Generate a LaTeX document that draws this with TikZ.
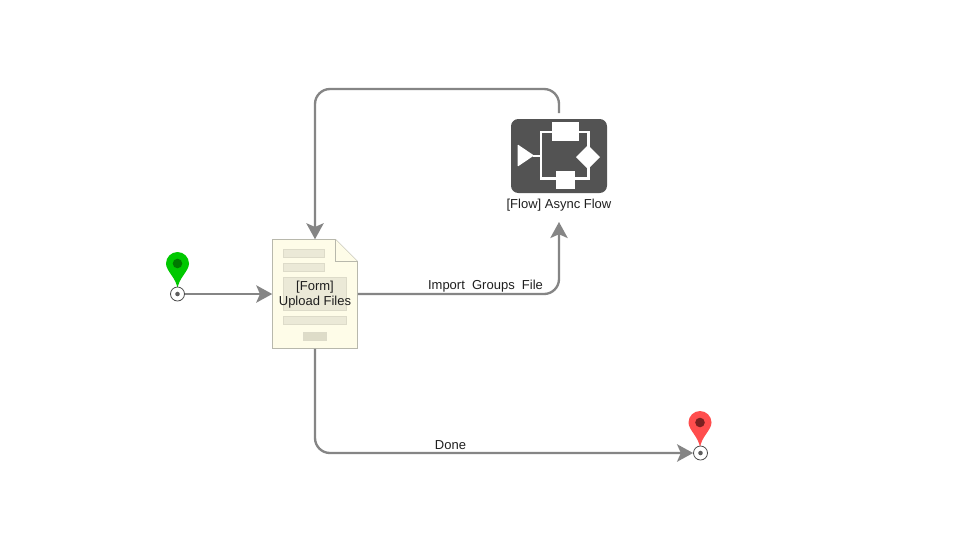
\documentclass[tikz,border=0pt]{standalone}
\usepackage{fontspec}
\setmainfont{Liberation Sans}
\usetikzlibrary{arrows.meta}
\definecolor{conn}{HTML}{858585}
\definecolor{paper}{HTML}{FEFCE8}
\definecolor{paperedge}{HTML}{B8B8AC}
\definecolor{barfill}{HTML}{EBE9D7}
\definecolor{barfilldark}{HTML}{DEDCC8}
\definecolor{baredge}{HTML}{DDDBC9}
\definecolor{flowbg}{HTML}{535353}
\definecolor{pingreen}{HTML}{00C800}
\definecolor{pingreend}{HTML}{007800}
\definecolor{pinred}{HTML}{FF4D4D}
\definecolor{pinredd}{HTML}{7A2020}
\tikzset{
  x=0.75pt,y=-0.75pt,
  conline/.style={draw=conn,line width=1.75pt,rounded corners=11.25pt,-{Stealth[length=12pt,width=13pt,inset=2.8pt]}},
  lbl/.style={font=\fontsize{9.75}{11.25}\selectfont,text=black!88,inner sep=0pt,align=center},
  bar/.style={fill=barfill,draw=baredge,line width=0.4pt},
  glyph/.style={fill=white,draw=none},
  wire/.style={draw=white,line width=1.8pt},
  endpt/.style={circle,draw=black!70,fill=white,line width=0.6pt,minimum size=10.5pt,inner sep=0pt},
}
\newcommand{\pinshape}[4]{% x, tip-circle y, fill, dark
  \fill[#3] (#1,#2-5) .. controls (#1-1,#2-16) and (#1-11.5,#2-23) .. (#1-11.5,#2-30.5)
    arc[start angle=180,end angle=0,radius=8.625pt]
    .. controls (#1+11.5,#2-23) and (#1+1,#2-16) .. cycle;
  \fill[#4] (#1,#2-30.5) circle[radius=3.6pt];
}
\begin{document}
\begin{tikzpicture}
\useasboundingbox[fill=white] (0,0) rectangle (953,551);
% form page
\draw[fill=paper,draw=paperedge,line width=0.7pt] (272.5,239.5) -- (335.5,239.5) -- (357.5,261.5) -- (357.5,348.5) -- (272.5,348.5) -- cycle;
\draw[fill=paper,draw=paperedge,line width=0.7pt] (335.5,239.5) -- (335.5,261.5) -- (357.5,261.5);
\draw[bar] (283.5,249.5) rectangle (324.5,257.5);
\draw[bar] (283.5,263.5) rectangle (324.5,271.5);
\draw[bar] (283.5,277.5) rectangle (346.5,310.5);
\draw[bar] (283.5,316.5) rectangle (346.5,324.5);
\draw[bar,fill=barfilldark] (303.5,332.5) rectangle (326.5,340.5);
\node[inner sep=0pt,minimum width=63.75pt,minimum height=81.75pt] (form) at (315,294) {};
\node[lbl] (formtext) at (315,294.8) {[Form]\\[0.3pt]Upload Files};
% flow icon
\node[fill=flowbg,rounded corners=5.5pt,minimum width=72pt,minimum height=55.5pt,inner sep=0pt] (flow) at (559,156) {};
\draw[wire] (533,156) -- (541,156);
\draw[wire] (541,178.5) -- (541,132) -- (588.5,132) -- (588.5,178.5) -- cycle;
\fill[glyph] (552,122) rectangle (578.5,140.5);
\fill[glyph] (556,170.5) rectangle (575,189);
\fill[glyph] (576,157) -- (588,145.2) -- (600,157) -- (588,169.2) -- cycle;
\fill[glyph,rounded corners=0.8pt] (517.5,144.3) -- (534,155.5) -- (517.5,166.7) -- cycle;
\node[lbl] (flowlabel) at (559,205) {[Flow] Async Flow};
\coordinate (flowin) at (559,222);
\coordinate (flowout) at (559,113);
% start / end pins
\pinshape{177.5}{294}{pingreen}{pingreend}
\pinshape{700}{453}{pinred}{pinredd}
\node[endpt] (start) at (177.5,294) {};
\fill[conn!70!black] (start.center) circle[radius=1.7pt];
\node[endpt] (stop) at (700.5,453) {};
\fill[conn!70!black] (stop.center) circle[radius=1.7pt];
% connectors
\draw[conline] (start) -- (form.west);
\draw[conline] (form.east) -- (559,294) -- (flowin);
\draw[conline] (flowout) -- (559,89) -- (315,89) -- (form.north);
\draw[conline] (form.south) -- (315,453) -- (stop);
% labels
\node[lbl] (importlbl) at (485.5,286.3) {Import\ \ Groups\ \ File};
\node[lbl] (donelbl) at (450.5,445) {Done};
\end{tikzpicture}
\end{document}
